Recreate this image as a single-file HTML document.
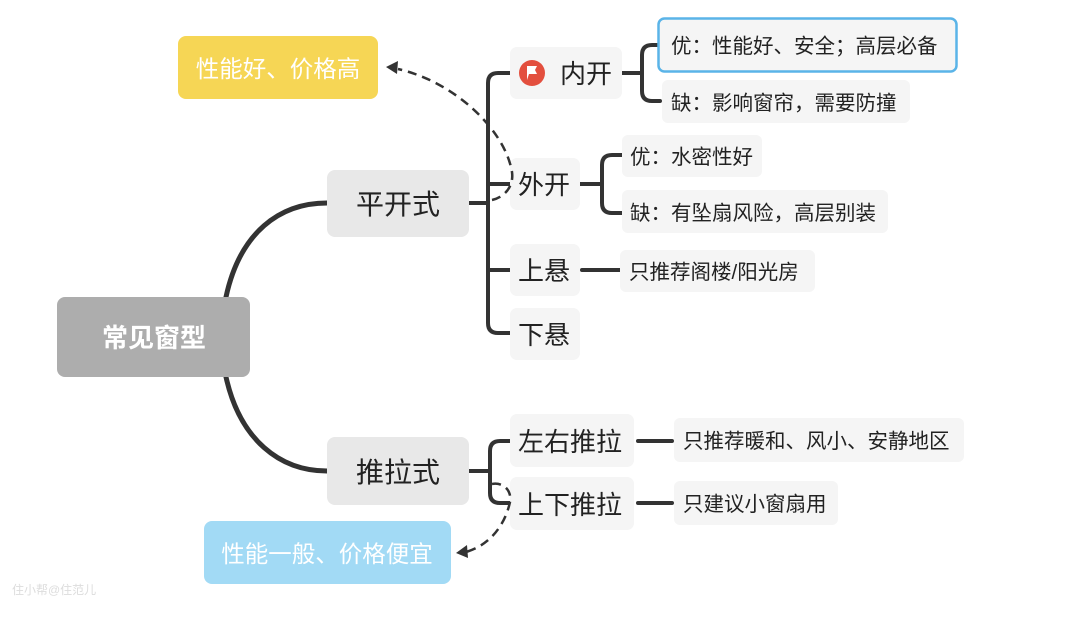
<!DOCTYPE html>
<html><head><meta charset="utf-8"><style>
html,body{margin:0;padding:0;background:#fff;}
svg text{font-family:"Liberation Sans","Noto Sans CJK SC",sans-serif;}
</style></head><body>
<svg width="1080" height="612" viewBox="0 0 1080 612" xmlns="http://www.w3.org/2000/svg">
<g fill="none" stroke="#333" stroke-linecap="round">
<path d="M226,297 C240,232 280,203 327,203" stroke-width="5"/>
<path d="M226,377 C240,440 280,471 327,471" stroke-width="5"/>
<path d="M469,203 H488" stroke-width="4"/>
<path d="M510,73 H498 Q488,73 488,83 V323 Q488,333 498,333 H510" stroke-width="4"/>
<path d="M488,184 H510 M488,270 H510" stroke-width="4"/>
<path d="M622,73 H642" stroke-width="4"/>
<path d="M660,45 H652 Q642,45 642,55 V91 Q642,101 652,101 H660" stroke-width="4"/>
<path d="M580,184 H602" stroke-width="4"/>
<path d="M622,155 H612 Q602,155 602,165 V203 Q602,213 612,213 H622" stroke-width="4"/>
<path d="M582,270 H620" stroke-width="4"/>
<path d="M469,471 H490" stroke-width="4"/>
<path d="M510,441 H500 Q490,441 490,451 V493 Q490,503 500,503 H510" stroke-width="4"/>
<path d="M638,441 H672 M638,503 H672" stroke-width="4"/>
</g>
<rect x="57" y="297" width="193" height="80" rx="8" fill="#adadad"/>
<text x="154" y="347" font-size="26" font-weight="bold" fill="#fff" text-anchor="middle">常见窗型</text>
<rect x="327" y="170" width="142" height="67" rx="8" fill="#e8e8e8"/>
<text x="398" y="214" font-size="28" fill="#222" text-anchor="middle">平开式</text>
<rect x="327" y="437" width="142" height="68" rx="8" fill="#e8e8e8"/>
<text x="398" y="482" font-size="28" fill="#222" text-anchor="middle">推拉式</text>
<g fill="#f5f5f5">
<rect x="510" y="47" width="112" height="52" rx="7"/>
<rect x="510" y="158" width="70" height="52" rx="7"/>
<rect x="510" y="244" width="70" height="52" rx="7"/>
<rect x="510" y="308" width="70" height="52" rx="7"/>
<rect x="658" y="18" width="298" height="53" rx="6"/>
<rect x="662" y="80" width="248" height="43" rx="6"/>
<rect x="622" y="135" width="140" height="42" rx="6"/>
<rect x="622" y="190" width="266" height="43" rx="6"/>
<rect x="620" y="250" width="195" height="42" rx="6"/>
<rect x="510" y="414" width="124" height="53" rx="7"/>
<rect x="510" y="477" width="124" height="53" rx="7"/>
<rect x="674" y="418" width="290" height="44" rx="6"/>
<rect x="674" y="481" width="164" height="44" rx="6"/>
</g>
<rect x="658.5" y="18.5" width="298" height="53" rx="6" fill="none" stroke="#5ab4e8" stroke-width="2.5"/>
<circle cx="532" cy="73" r="13" fill="#e34f3e"/>
<path d="M527,80 V66 H537 L535,70 L537,74 H529" fill="#fff"/>
<g font-size="26" fill="#222">
<text x="560" y="83">内开</text>
<text x="518" y="194">外开</text>
<text x="518" y="280">上悬</text>
<text x="518" y="344">下悬</text>
<text x="518" y="451">左右推拉</text>
<text x="518" y="514">上下推拉</text>
</g>
<g font-size="20.5" fill="#222">
<text x="671" y="53">优：性能好、安全；高层必备</text>
<text x="671" y="110">缺：影响窗帘，需要防撞</text>
<text x="630" y="164">优：水密性好</text>
<text x="630" y="220">缺：有坠扇风险，高层别装</text>
<text x="629" y="279">只推荐阁楼/阳光房</text>
<text x="683" y="448">只推荐暖和、风小、安静地区</text>
<text x="683" y="511">只建议小窗扇用</text>
</g>
<rect x="178" y="36" width="200" height="63" rx="8" fill="#f6d655"/>
<text x="278" y="77" font-size="23.5" fill="#fff" text-anchor="middle">性能好、价格高</text>
<rect x="204" y="521" width="247" height="63" rx="8" fill="#a2daf5"/>
<text x="327" y="562" font-size="23.5" fill="#fff" text-anchor="middle">性能一般、价格便宜</text>
<g fill="none" stroke="#333" stroke-width="2.5" stroke-dasharray="9,6">
<path d="M492,200 C505,197 514,186 512,172 C505,130 455,82 398,69"/>
<path d="M492,484 C503,482 512,490 510,502 C505,525 490,545 466,552"/>
</g>
<path d="M386,67 L398,61 L397,74 Z" fill="#333"/>
<path d="M456,553 L467,545 L468,558 Z" fill="#333"/>
<text x="12" y="594" font-size="12" fill="#ddd">住小帮@住范儿</text>
</svg>
</body></html>
